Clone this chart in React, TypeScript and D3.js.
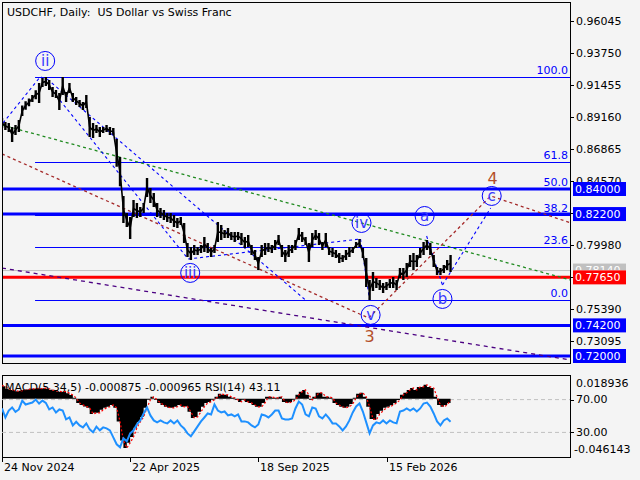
import React from "react";
import * as d3 from "d3";

// ---------- DATA ----------
const priceHigh = [
  0.8910, 0.8882, 0.8874, 0.8846, 0.8860, 0.8896, 0.9000, 0.9030, 0.9050, 0.9075,
  0.9110, 0.9162, 0.9198, 0.9205, 0.9183, 0.9133, 0.9111, 0.9090, 0.9205, 0.9097,
  0.9162, 0.9090, 0.9061, 0.9040, 0.9025, 0.9075, 0.8917, 0.8874, 0.8860, 0.8846,
  0.8846, 0.8860, 0.8846, 0.8838, 0.8760, 0.8630, 0.8350, 0.8228, 0.8199, 0.8321,
  0.8299, 0.8271, 0.8299, 0.8479, 0.8407, 0.8371, 0.8299, 0.8264, 0.8249, 0.8228,
  0.8228, 0.8213, 0.8192, 0.8199, 0.8156, 0.8012, 0.7983, 0.7998, 0.7983, 0.7998,
  0.8055, 0.8012, 0.7976, 0.7998, 0.8163, 0.8141, 0.8105, 0.8120, 0.8091, 0.8091,
  0.8091, 0.8084, 0.8055, 0.8070, 0.7998, 0.7962, 0.7911, 0.7998, 0.8012, 0.8012,
  0.7998, 0.8034, 0.8070, 0.7998, 0.7962, 0.7998, 0.7998, 0.8034, 0.8120, 0.8091,
  0.8055, 0.8012, 0.8084, 0.8105, 0.8084, 0.8019, 0.8084, 0.7983, 0.7976, 0.7962,
  0.7940, 0.7926, 0.7962, 0.7983, 0.7983, 0.8019, 0.8041, 0.7976, 0.7904, 0.7746,
  0.7804, 0.7761, 0.7746, 0.7725, 0.7732, 0.7754, 0.7768, 0.7746, 0.7832, 0.7832,
  0.7868, 0.7926, 0.7940, 0.7926, 0.7976, 0.8019, 0.8034, 0.8012, 0.7926, 0.7840,
  0.7832, 0.7854, 0.7890, 0.7926,
];
const priceLow = [
  0.8838, 0.8824, 0.8810, 0.8738, 0.8788, 0.8810, 0.8925, 0.8970, 0.8995, 0.9025,
  0.9045, 0.9018, 0.9133, 0.9140, 0.9111, 0.9061, 0.9054, 0.8968, 0.9075, 0.9025,
  0.9090, 0.9025, 0.9004, 0.8989, 0.8968, 0.8982, 0.8774, 0.8767, 0.8802, 0.8774,
  0.8802, 0.8810, 0.8788, 0.8790, 0.8560, 0.8420, 0.8156, 0.8127, 0.8041, 0.8199,
  0.8192, 0.8199, 0.8228, 0.8343, 0.8299, 0.8271, 0.8199, 0.8192, 0.8177, 0.8163,
  0.8156, 0.8127, 0.8120, 0.8141, 0.8012, 0.7911, 0.7890, 0.7926, 0.7926, 0.7940,
  0.7947, 0.7940, 0.7911, 0.7940, 0.8019, 0.8034, 0.8048, 0.8048, 0.8034, 0.8019,
  0.8034, 0.7998, 0.7976, 0.7983, 0.7926, 0.7890, 0.7818, 0.7911, 0.7926, 0.7947,
  0.7940, 0.7962, 0.7998, 0.7911, 0.7876, 0.7911, 0.7940, 0.7962, 0.8034, 0.8019,
  0.7998, 0.7876, 0.7983, 0.8034, 0.7998, 0.7962, 0.7983, 0.7926, 0.7911, 0.7904,
  0.7868, 0.7876, 0.7890, 0.7911, 0.7940, 0.7976, 0.7983, 0.7904, 0.7696, 0.7602,
  0.7667, 0.7689, 0.7674, 0.7653, 0.7674, 0.7689, 0.7689, 0.7674, 0.7761, 0.7746,
  0.7768, 0.7840, 0.7818, 0.7840, 0.7904, 0.7926, 0.7962, 0.7926, 0.7840, 0.7782,
  0.7782, 0.7797, 0.7818, 0.7804,
];
const macdMain = [
  0.0100, 0.0080, 0.0070, 0.0065, 0.0060, 0.0065, 0.0070, 0.0075, 0.0080, 0.0080,
  0.0085, 0.0080, 0.0085, 0.0080, 0.0070, 0.0065, 0.0060, 0.0055, 0.0060, 0.0045,
  0.0030, 0.0008, -0.0032, -0.0048, -0.0060, -0.0071, -0.0120, -0.0111, -0.0111, -0.0087,
  -0.0071, -0.0063, -0.0048, -0.0071, -0.0180, -0.0330, -0.0390, -0.0349, -0.0302, -0.0230,
  -0.0183, -0.0143, -0.0071, -0.0008, 0.0016, -0.0008, -0.0032, -0.0048, -0.0063, -0.0071,
  -0.0071, -0.0063, -0.0048, -0.0063, -0.0060, -0.0103, -0.0151, -0.0143, -0.0103, -0.0063,
  -0.0032, -0.0024, -0.0008, 0.0016, 0.0040, 0.0032, 0.0032, 0.0016, 0.0008, -0.0008,
  -0.0024, -0.0008, -0.0024, -0.0032, -0.0048, -0.0063, -0.0063, -0.0032, 0.0016, 0.0016,
  0.0008, 0.0008, 0.0016, -0.0024, -0.0032, -0.0024, -0.0008, 0.0032, 0.0056, 0.0071,
  0.0032, -0.0008, 0.0016, 0.0048, 0.0048, 0.0016, 0.0016, 0.0008, -0.0032, -0.0048,
  -0.0063, -0.0071, -0.0063, -0.0040, 0.0008, 0.0040, 0.0048, 0.0016, -0.0063, -0.0160,
  -0.0165, -0.0120, -0.0095, -0.0071, -0.0063, -0.0050, -0.0032, -0.0010, 0.0032, 0.0048,
  0.0071, 0.0087, 0.0071, 0.0095, 0.0095, 0.0111, 0.0095, 0.0087, 0.0016, -0.0048,
  -0.0063, -0.0048, -0.0032, -0.0009,
];
const macdSignal = [
  0.0105, 0.0100, 0.0080, 0.0070, 0.0065, 0.0060, 0.0065, 0.0070, 0.0075, 0.0080,
  0.0080, 0.0085, 0.0080, 0.0085, 0.0080, 0.0070, 0.0065, 0.0060, 0.0055, 0.0060,
  0.0045, 0.0030, 0.0008, -0.0032, -0.0048, -0.0060, -0.0071, -0.0120, -0.0111, -0.0111,
  -0.0087, -0.0071, -0.0063, -0.0048, -0.0071, -0.0180, -0.0330, -0.0390, -0.0349, -0.0302,
  -0.0230, -0.0183, -0.0143, -0.0071, -0.0008, 0.0016, -0.0008, -0.0032, -0.0048, -0.0063,
  -0.0071, -0.0071, -0.0063, -0.0048, -0.0063, -0.0060, -0.0103, -0.0151, -0.0143, -0.0103,
  -0.0063, -0.0032, -0.0024, -0.0008, 0.0016, 0.0040, 0.0032, 0.0032, 0.0016, 0.0008,
  -0.0008, -0.0024, -0.0008, -0.0024, -0.0032, -0.0048, -0.0063, -0.0063, -0.0032, 0.0016,
  0.0016, 0.0008, 0.0008, 0.0016, -0.0024, -0.0032, -0.0024, -0.0008, 0.0032, 0.0056,
  0.0071, 0.0032, -0.0008, 0.0016, 0.0048, 0.0048, 0.0016, 0.0016, 0.0008, -0.0032,
  -0.0048, -0.0063, -0.0071, -0.0063, -0.0040, 0.0008, 0.0040, 0.0048, 0.0016, -0.0063,
  -0.0160, -0.0165, -0.0120, -0.0095, -0.0071, -0.0063, -0.0050, -0.0032, -0.0010, 0.0032,
  0.0048, 0.0071, 0.0087, 0.0071, 0.0095, 0.0095, 0.0111, 0.0095, 0.0087, 0.0016,
  -0.0048, -0.0063, -0.0048, -0.0010,
];
const rsiValues = [
  59.2, 48.2, 56.7, 60.4, 55.0, 58.0, 68.8, 64.0, 65.2, 66.4,
  70.0, 65.2, 68.8, 66.0, 58.0, 60.4, 54.3, 58.0, 56.7, 46.0,
  48.2, 38.5, 43.0, 38.5, 36.1, 41.0, 33.7, 30.1, 37.0, 32.5,
  36.1, 34.9, 32.5, 24.0, 15.5, 11.9, 22.8, 19.1, 28.8, 32.5,
  39.7, 44.6, 53.1, 60.4, 50.7, 44.6, 42.2, 44.6, 42.2, 41.0,
  44.6, 41.0, 44.6, 38.5, 34.9, 28.8, 25.2, 31.3, 37.3, 43.4,
  48.2, 53.1, 51.9, 64.0, 56.7, 54.3, 55.5, 50.7, 51.9, 49.5,
  51.9, 43.4, 43.4, 42.2, 38.5, 36.1, 39.7, 51.9, 50.7, 48.2,
  51.9, 56.7, 56.7, 47.0, 45.8, 45.8, 47.0, 59.2, 67.6, 64.0,
  51.9, 49.5, 60.4, 59.2, 49.5, 47.0, 51.9, 47.0, 41.0, 41.0,
  37.3, 32.5, 37.3, 44.6, 54.3, 61.6, 65.2, 55.5, 42.2, 28.8,
  38.5, 42.2, 41.0, 44.6, 41.0, 44.6, 42.2, 41.0, 55.5, 56.7,
  59.2, 56.7, 59.2, 55.5, 59.2, 65.2, 66.4, 61.6, 53.1, 43.4,
  38.5, 44.6, 47.0, 43.11,
];

const firstBarDate = new Date(2024, 10, 24);
const lastBarDate = new Date(2026, 3, 30);
const axisEndDate = new Date(2026, 8, 16);
const dateTicks = [new Date(2024, 10, 24), new Date(2025, 3, 22), new Date(2025, 8, 18), new Date(2026, 1, 15)];
const dateTickLabels = ["24 Nov 2024", "22 Apr 2025", "18 Sep 2025", "15 Feb 2026"];

const priceDomain = [0.71497, 0.97437];
const priceTicks = [0.96045, 0.9375, 0.91455, 0.8916, 0.86865, 0.8457, 0.82275, 0.7998, 0.77685, 0.7539, 0.73095];

const supportResistance = [0.84, 0.822, 0.742, 0.72];
const keyLevel = 0.7765;
const lastPrice = 0.7814;

const fibHigh = 0.9205;
const fibLow = 0.7602;
const fibStartIndex = 9.8;
const fibLevels = [0, 23.6, 38.2, 50.0, 61.8, 100.0];

// wave lines in (bar index, price)
const blueWaveLines = [
  [[0.3, 0.8874], [11.3, 0.9205]],
  [[11.6, 0.9205], [55.2, 0.7897]],
  [[13.4, 0.919], [90.0, 0.7602]],
  [[55.2, 0.7897], [106.3, 0.8041]],
  [[106.3, 0.8041], [109.0, 0.7602]],
  [[125.9, 0.8062], [130.6, 0.771]],
  [[130.6, 0.771], [144.9, 0.8263]],
];
const redWavePath = [[0, 0.8652], [108.7, 0.7473], [144.9, 0.835], [168.65, 0.8156]];
const greenTrend = [[0, 0.886], [168.65, 0.7746]];
const purpleTrend = [[0, 0.7832], [168.65, 0.7171]];

const waveLabels = [
  { t: "ii", i: 12.8, p: 0.932 },
  { t: "iii", i: 55.8, p: 0.7797 },
  { t: "iv", i: 106.6, p: 0.8156 },
  { t: "v", i: 109.3, p: 0.7495 },
  { t: "a", i: 125.3, p: 0.8206 },
  { t: "b", i: 130.6, p: 0.761 },
  { t: "c", i: 145.2, p: 0.835 },
];
const degreeLabels = [
  { t: "3", i: 109.0, p: 0.7344 },
  { t: "4", i: 145.5, p: 0.8479 },
];

const macdDomain = [-0.046143, 0.018936];
const macdLabels = ["0.018936", "-0.046143"];
const rsiLevels = [70, 30];
const title = "USDCHF, Daily:  US Dollar vs Swiss Franc";
const indicatorTitle = "MACD(5,34,5) -0.000875 -0.000965 RSI(14) 43.11";

// ---------- CHART ----------
export default function App() {
  const W = 640, H = 480;
  const L = 2, R = 570;
  const mainTop = 2, mainBottom = 363;
  const indTop = 375, indBottom = 457;
  const font = "DejaVu Sans, Verdana, sans-serif";
  const N = priceHigh.length;

  const xTime = d3.scaleTime().domain([firstBarDate, axisEndDate]).range([L, R]);
  const xIdx = d3.scaleLinear().domain([0, N - 1]).range([xTime(firstBarDate), xTime(lastBarDate)]);
  const y = d3.scaleLinear().domain(priceDomain).range([mainBottom, mainTop]);
  const yMacd = d3.scaleLinear().domain(macdDomain).range([indBottom, indTop]);
  const yRsi = d3.scaleLinear().domain([0, 100]).range([indBottom, indTop]);

  const line = d3.line<number[]>().x((d) => xIdx(d[0])).y((d) => y(d[1]));

  const bars = priceHigh
    .map((h, i) => `M${xIdx(i)},${y(h)}L${xIdx(i)},${y(priceLow[i])}`)
    .join("");
  const midLine = d3
    .line<number>()
    .x((_, i) => xIdx(i))
    .y((h, i) => y((h + priceLow[i]) / 2))(priceHigh);

  const macdArea = d3
    .area<number>()
    .x((_, i) => xIdx(i))
    .y0(yMacd(0))
    .y1((d) => yMacd(d))
    .curve(d3.curveStepAfter)(macdMain);
  const signalLine = d3
    .line<number>()
    .x((_, i) => xIdx(i))
    .y((d) => yMacd(d))(macdSignal);
  const rsiLine = d3
    .line<number>()
    .x((_, i) => xIdx(i))
    .y((d) => yRsi(d))(rsiValues);

  const fibValue = (lv: number) => fibLow + (fibHigh - fibLow) * (lv / 100);
  const fmt = d3.format(".5f");

  const boxedValues = [lastPrice, keyLevel, ...supportResistance];
  const hiddenByBox = (v: number) => boxedValues.some((b) => Math.abs(y(b) - y(v)) < 5);

  const box = (v: number, fill: string, key: string) => (
    <g key={key}>
      <rect x={573} y={y(v) - 7} width={53} height={14} fill={fill} />
      <text x={575} y={y(v)} dy="0.35em" fontSize={11} fill="#fff" fontFamily={font}>
        {fmt(v)}
      </text>
    </g>
  );

  return (
    <svg
      width={W}
      height={H}
      style={{ position: "absolute", left: 0, top: 0, background: "#f4f4f4" }}
      fontFamily={font}
    >
      <defs>
        <clipPath id="mainClip">
          <rect x={L} y={mainTop} width={R - L} height={mainBottom - mainTop} />
        </clipPath>
        <clipPath id="indClip">
          <rect x={L} y={indTop} width={R - L} height={indBottom - indTop} />
        </clipPath>
        <clipPath id="greyBoxClip">
          <rect x={570} y={0} width={70} height={y(keyLevel) - 7} />
        </clipPath>
      </defs>
      <rect x={0} y={0} width={W} height={H} fill="#f4f4f4" />

      {/* MAIN PANE */}
      <g clipPath="url(#mainClip)">
        <line x1={L} x2={R} y1={y(lastPrice)} y2={y(lastPrice)} stroke="#c0c0c0" strokeWidth={1} />
        {fibLevels.map((lv) => (
          <line
            key={"f" + lv}
            x1={xIdx(fibStartIndex)}
            x2={R}
            y1={Math.round(y(fibValue(lv))) + 0.5}
            y2={Math.round(y(fibValue(lv))) + 0.5}
            stroke="#0000ff"
            strokeWidth={1}
          />
        ))}
        {supportResistance.map((v) => (
          <line key={"s" + v} x1={L} x2={R} y1={y(v)} y2={y(v)} stroke="#0000ff" strokeWidth={3} />
        ))}
        <line x1={L} x2={R} y1={y(keyLevel)} y2={y(keyLevel)} stroke="#ff0000" strokeWidth={3} />

        <path d={line(purpleTrend as any) || ""} fill="none" stroke="#4b0082" strokeWidth={1.3} strokeDasharray="4,4" />
        <path d={line(greenTrend as any) || ""} fill="none" stroke="#1f8a1f" strokeWidth={1.3} strokeDasharray="3,3" />
        <path d={line(redWavePath as any) || ""} fill="none" stroke="#a52a2a" strokeWidth={1.3} strokeDasharray="3,3" />
        {blueWaveLines.map((seg, k) => (
          <path key={"b" + k} d={line(seg as any) || ""} fill="none" stroke="#0000ff" strokeWidth={1.1} strokeDasharray="3,3" />
        ))}

        <path d={bars} stroke="#000" strokeWidth={2.4} fill="none" />
        <path d={midLine || ""} stroke="#000" strokeWidth={1.6} fill="none" />

        {fibLevels.map((lv) => (
          <text key={"fl" + lv} x={568} y={y(fibValue(lv)) - 3} textAnchor="end" fontSize={11} fill="#0000ff">
            {lv.toFixed(1)}
          </text>
        ))}

        {waveLabels.map((w) => (
          <g key={w.t}>
            <circle cx={xIdx(w.i)} cy={y(w.p)} r={9.5} fill="none" stroke="#0000ff" strokeWidth={1} />
            <text x={xIdx(w.i)} y={y(w.p)} dy="0.33em" textAnchor="middle" fontSize={15} fill="#3a3aff">
              {w.t}
            </text>
          </g>
        ))}
        {degreeLabels.map((w) => (
          <text key={w.t} x={xIdx(w.i)} y={y(w.p)} dy="0.35em" textAnchor="middle" fontSize={16} fill="#b5502a">
            {w.t}
          </text>
        ))}
      </g>

      <text x={7} y={16} fontSize={11} fill="#000" style={{ whiteSpace: "pre" }}>
        {title}
      </text>

      <rect x={L + 0.5} y={mainTop + 0.5} width={R - L} height={mainBottom - mainTop} fill="none" stroke="#000" />
      <rect x={L + 0.5} y={indTop + 0.5} width={R - L} height={indBottom - indTop} fill="none" stroke="#000" />

      {/* price axis */}
      {priceTicks.map((v) => (
        <g key={"t" + v}>
          <line x1={R} x2={R + 4} y1={Math.round(y(v)) + 0.5} y2={Math.round(y(v)) + 0.5} stroke="#000" />
          {!hiddenByBox(v) && (
            <text x={576} y={y(v)} dy="0.35em" fontSize={11} fill="#000">
              {fmt(v)}
            </text>
          )}
        </g>
      ))}
      <g clipPath="url(#greyBoxClip)">{box(lastPrice, "#c0c0c0", "last")}</g>
      {box(keyLevel, "#ff0000", "key")}
      {supportResistance.map((v) => box(v, "#0000ff", "sr" + v))}

      {/* INDICATOR PANE */}
      <g clipPath="url(#indClip)">
        {rsiLevels.map((lv) => (
          <line key={"r" + lv} x1={L} x2={R} y1={yRsi(lv)} y2={yRsi(lv)} stroke="#c0c0c0" strokeDasharray="4,3" />
        ))}
        <path d={macdArea || ""} fill="#000" />
        <path d={signalLine || ""} fill="none" stroke="#ff0000" strokeWidth={1.2} strokeDasharray="2,2" />
        <path d={rsiLine || ""} fill="none" stroke="#1e90ff" strokeWidth={2} />
      </g>
      <text x={5} y={391} fontSize={11} fill="#000">
        {indicatorTitle}
      </text>
      <text x={576} y={yMacd(macdDomain[1]) + 8} dy="0.35em" fontSize={11} fill="#000">
        {macdLabels[0]}
      </text>
      <text x={574} y={yMacd(macdDomain[0]) - 8} dy="0.35em" fontSize={11} fill="#000">
        {macdLabels[1]}
      </text>
      {rsiLevels.map((lv) => (
        <g key={"rl" + lv}>
          <line x1={R} x2={R + 4} y1={Math.round(yRsi(lv)) + 0.5} y2={Math.round(yRsi(lv)) + 0.5} stroke="#000" />
          <text x={576} y={yRsi(lv)} dy="0.35em" fontSize={11} fill="#000">
            {lv.toFixed(2)}
          </text>
        </g>
      ))}

      {/* date axis */}
      {dateTicks.map((d, k) => (
        <g key={"d" + k}>
          <line x1={Math.round(xTime(d)) + 0.5} x2={Math.round(xTime(d)) + 0.5} y1={indBottom} y2={indBottom + 5} stroke="#000" />
          <text x={xTime(d) + 2} y={471} fontSize={11} fill="#000">
            {dateTickLabels[k]}
          </text>
        </g>
      ))}
    </svg>
  );
}
